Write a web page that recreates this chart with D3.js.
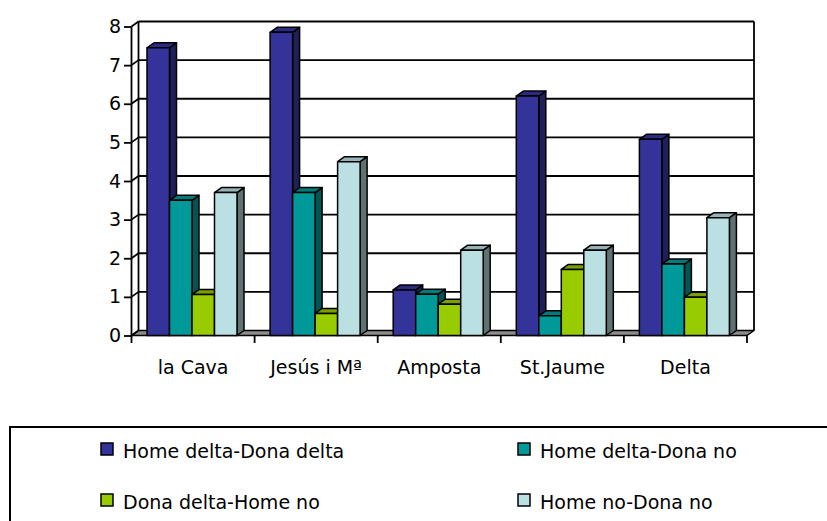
<!DOCTYPE html>
<html>
<head>
<meta charset="utf-8">
<script src="https://cdn.jsdelivr.net/npm/d3@7/dist/d3.min.js"></script>
<style>
  html, body { margin: 0; padding: 0; background: #fff; }
  svg { display: block; }
  text { font-family: "DejaVu Sans", sans-serif; fill: #000; }
</style>
</head>
<body>
<svg id="chart" width="827" height="521"></svg>
<script>
// Categories (municipalities) and series (couple origin)
const categories = ["la Cava", "Jesús i Mª", "Amposta", "St.Jaume", "Delta"];
const seriesNames = ["Home delta-Dona delta", "Home delta-Dona no", "Dona delta-Home no", "Home no-Dona no"];

// Values per series, one per category
const homeDeltaDonaDelta = [7.45, 7.85, 1.18, 6.2, 5.08];
const homeDeltaDonaNo    = [3.5, 3.7, 1.07, 0.51, 1.85];
const donaDeltaHomeNo    = [1.06, 0.57, 0.81, 1.71, 0.99];
const homeNoDonaNo       = [3.7, 4.5, 2.21, 2.21, 3.05];

const yTicks = [0, 1, 2, 3, 4, 5, 6, 7, 8];

const seriesValues = [homeDeltaDonaDelta, homeDeltaDonaNo, donaDeltaHomeNo, homeNoDonaNo];
// front, top, side colours of each series' columns
const frontColors = ["#333399", "#009999", "#99cc00", "#bbe0e3"];
const topColors   = ["#2b2b82", "#007a7a", "#7a9f00", "#95b3b6"];
const sideColors  = ["#1f1f5a", "#005555", "#5c7a00", "#5f7272"];

const FONT = "19px";
const svg = d3.select("#chart");

// 3D depth offset of the walls and columns
const DX = 7, DY = -5;

const y = d3.scaleLinear().domain([0, 8]).range([335.5, 26.5]);
const x0 = d3.scaleBand().domain(categories).range([131.5, 747]);
const x1 = d3.scaleBand().domain(seriesNames).range([15.5, 105.5]);

const line = (pts) => "M" + pts.map(p => p.join(",")).join("L") + "Z";
const pathOpen = (pts) => "M" + pts.map(p => p.join(",")).join("L");

const x0Start = x0.range()[0], x0End = x0.range()[1];
const y0 = y(0);

// floor slab
svg.append("path")
  .attr("d", line([[x0Start, y0], [x0End, y0], [x0End + DX, y0 + DY], [x0Start + DX, y0 + DY]]))
  .attr("fill", "#8c8c8c").attr("stroke", "#000").attr("stroke-width", 1.5)
  .attr("stroke-linejoin", "round");

// back wall gridlines and side wall diagonals
const grid = svg.append("g").attr("fill", "none").attr("stroke", "#000").attr("stroke-width", 1.8);
yTicks.forEach(t => {
  if (t > 0) {
    grid.append("path").attr("d", pathOpen([[x0Start + DX, y(t) + DY], [x0End + DX, y(t) + DY]]));
  }
  grid.append("path").attr("d", pathOpen([[x0Start, y(t)], [x0Start + DX, y(t) + DY]]));
});
// back wall vertical edges
grid.append("path").attr("d", pathOpen([[x0Start + DX, y(8) + DY], [x0Start + DX, y0 + DY]]));
grid.append("path").attr("d", pathOpen([[x0End + DX, y(8) + DY], [x0End + DX, y0 + DY]]));

// y axis
const yAxis = d3.axisLeft(y).tickValues(yTicks).tickFormat(d3.format("d"))
  .tickSize(7.5).tickPadding(3);
const gy = svg.append("g").attr("transform", `translate(${x0Start},0)`).call(yAxis);
gy.select(".domain").attr("stroke", "#000").attr("stroke-width", 1.8).attr("d", `M-0,${y(8)}V${y0}`);
gy.selectAll(".tick line").attr("stroke", "#000").attr("stroke-width", 1.8);
gy.selectAll(".tick text").style("font-size", FONT).attr("fill", "#000").attr("font-family", "DejaVu Sans");

// columns, drawn left to right so each front face hides the previous side
const bars = svg.append("g").attr("stroke", "#000").attr("stroke-width", 1.5).attr("stroke-linejoin", "round");
categories.forEach((cat, ci) => {
  seriesNames.forEach((s, si) => {
    const v = seriesValues[si][ci];
    const xl = x0(cat) + x1(s);
    const xr = xl + x1.bandwidth();
    const yt = y(v);
    bars.append("path").attr("fill", sideColors[si])
      .attr("d", line([[xr, yt], [xr + DX, yt + DY], [xr + DX, y0 + DY], [xr, y0]]));
    bars.append("path").attr("fill", topColors[si])
      .attr("d", line([[xl, yt], [xl + DX, yt + DY], [xr + DX, yt + DY], [xr, yt]]));
    bars.append("rect").attr("fill", frontColors[si])
      .attr("x", xl).attr("y", yt).attr("width", xr - xl).attr("height", y0 - yt);
  });
});

// category axis
const xAxis = d3.axisBottom(x0).tickSize(0).tickPadding(25);
const gx = svg.append("g").attr("transform", `translate(0,${y0})`).call(xAxis);
gx.select(".domain").remove();
gx.selectAll(".tick text").style("font-size", FONT).attr("fill", "#000").attr("font-family", "DejaVu Sans");
const edges = categories.map(c => x0(c)).concat([x0End]);
gx.selectAll("line.edge").data(edges).enter().append("line")
  .attr("class", "edge").attr("x1", d => d).attr("x2", d => d)
  .attr("y1", 0).attr("y2", 7.5).attr("stroke", "#000").attr("stroke-width", 1.8);

// legend
const legend = svg.append("g");
legend.append("rect").attr("x", 10).attr("y", 427).attr("width", 830).attr("height", 110)
  .attr("fill", "#fff").attr("stroke", "#000").attr("stroke-width", 2);
const legendCols = [101, 518];
const legendRows = [449, 500];
seriesNames.forEach((s, i) => {
  const lx = legendCols[i % 2], ly = legendRows[Math.floor(i / 2)];
  legend.append("rect").attr("x", lx).attr("y", ly - 6).attr("width", 12).attr("height", 12)
    .attr("fill", frontColors[i]).attr("stroke", "#000").attr("stroke-width", 1.5);
  legend.append("text").attr("x", lx + 22).attr("y", ly + 9)
    .style("font-size", FONT).text(s);
});
</script>
</body>
</html>
